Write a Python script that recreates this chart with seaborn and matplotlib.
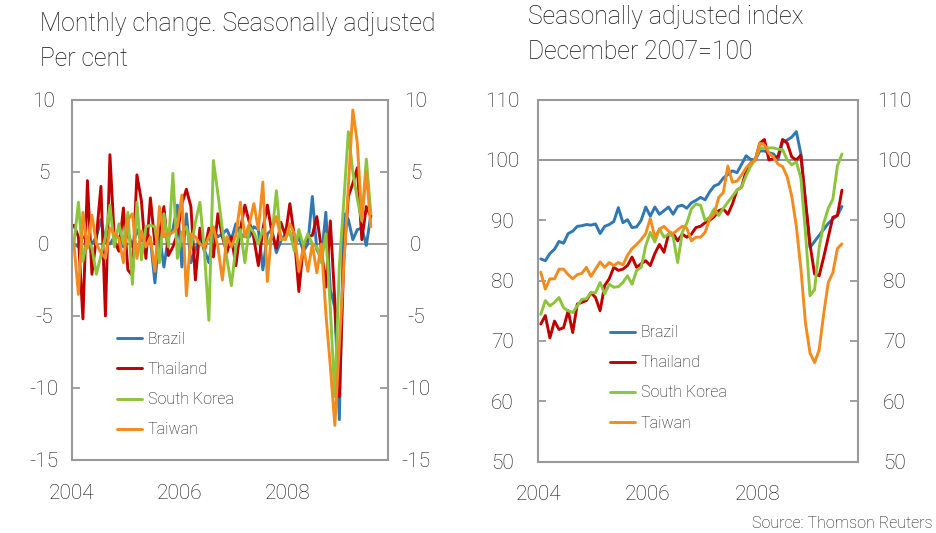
import numpy as np
import pandas as pd
import matplotlib
matplotlib.use("Agg")
import matplotlib.pyplot as plt
import seaborn as sns

countries = ["Brazil", "Thailand", "South Korea", "Taiwan"]
colors = ["#2f78b4", "#c00000", "#8cc43c", "#f28c1e"]
start_year = 2004  # monthly data Jan 2004 - Jul 2009

# monthly change, per cent (left panel)
brazil_chg = [0.0, -0.2, 0.5, 0.3, 0.0, 0.5, 1.7, 0.1, 0.0, 0.5, 0.5, -0.2,
              0.8, -0.2, 1.0, 0.2, 1.0, 0.3, -2.7, 0.7, -1.6, 0.5, 1.0, 2.7,
              -1.6, 2.1, -1.3, -0.4, 0.5, -0.4, -1.3, 0.9, 0.5, 0.7, 1.0, 0.3,
              1.4, 0.7, 0.5, 0.5, 1.2, 1.0, -1.8, 0.7, 1.0, -0.6, 0.2, 0.7,
              0.8, -0.2, 0.5, -0.5, 0.0, 3.3, -0.4, -1.0, 2.2, -3.2, -4.4, -12.2,
              2.1, 1.7, 0.3, 1.0, 1.1, -0.1, 2.0]
thailand_chg = [1.3, 0.5, -5.2, 4.4, -2.1, 0.5, 4.0, -5.0, 6.2, 0.2, -0.5, 2.5,
                -1.8, -2.2, 4.8, 3.0, -1.0, 3.2, 0.0, 0.7, 2.6, -0.8, -0.2, 0.7,
                2.8, 3.8, 2.6, -2.5, 1.1, -0.5, 1.1, -0.9, 2.1, 0.5, -0.6, 0.5,
                -1.5, 1.0, 2.7, 1.5, 0.4, -1.5, 1.0, 2.7, 0.8, -0.3, 1.5, 0.6,
                2.8, 0.5, -3.3, -0.1, 0.5, 0.6, 1.9, -0.3, -3.0, 1.6, -4.0, -10.6,
                -1.0, 3.3, 4.2, 5.3, 0.3, 2.6, 1.9]
korea_chg = [0.0, 2.9, -1.2, 0.5, -0.3, -2.1, -0.8, 0.5, 2.7, -0.2, 1.4, 0.0,
             2.2, -2.8, 2.9, -1.1, 1.2, 1.3, 1.2, -1.3, 2.1, -0.2, 4.9, -1.0,
             0.8, 1.2, -0.3, 1.5, 2.9, -0.5, -5.3, 5.8, 3.5, 1.0, -1.0, -2.9,
             -0.2, 1.0, -1.3, 1.2, 0.8, 0.0, 1.0, 0.0, 0.5, 3.7, 0.3, 0.4,
             0.9, -0.5, 1.0, -0.1, 0.7, 0.0, -0.2, -1.3, 0.7, -4.5, -10.6, -1.5,
             3.0, 7.8, 5.0, 3.1, 1.6, 5.9, 2.1]
taiwan_chg = [0.0, -3.5, 2.2, -0.3, 2.0, 0.0, -0.6, -1.0, 1.1, 0.7, 0.4, -1.3,
              1.7, 2.1, -1.0, 0.9, -0.2, 0.5, -1.9, 2.6, 0.5, 0.7, 0.8, 1.2,
              3.4, -3.6, 0.7, 0.5, 0.0, -0.2, 0.5, 1.2, -0.2, -2.5, 0.5, -0.2,
              0.6, 2.9, 0.5, 1.4, 2.8, 1.0, 4.3, -2.6, 1.0, 1.9, 0.4, 0.3,
              1.4, 0.7, -1.9, -0.2, -1.9, 0.0, -2.0, 0.0, -4.8, -8.5, -12.6, -7.0,
              -1.5, 4.0, 9.3, 7.0, 1.7, 5.0, 1.2]

# seasonally adjusted index, Dec 2007 = 100 (right panel)
brazil_idx = [83.6, 83.3, 84.5, 85.2, 86.5, 86.2, 87.8, 88.2, 89.0, 89.1, 89.3, 89.2,
              89.4, 87.8, 89.0, 89.3, 89.8, 92.1, 89.6, 90.1, 88.8, 88.9, 90.0, 92.2,
              90.7, 92.2, 91.0, 91.6, 92.2, 91.0, 92.3, 92.5, 92.0, 92.9, 93.3, 93.8,
              93.4, 94.7, 95.7, 96.0, 97.0, 97.6, 98.2, 97.9, 99.3, 100.7, 100.1, 100.0,
              101.5, 101.5, 101.2, 101.0, 100.1, 103.0, 103.3, 103.8, 104.7, 101.0, 93.0, 85.5,
              86.5, 87.5, 88.5, 89.5, 90.2, 90.8, 92.3]
thailand_idx = [72.8, 74.2, 70.5, 73.3, 71.9, 72.2, 75.0, 71.4, 76.1, 76.4, 76.7, 78.0,
                77.2, 75.0, 79.2, 80.3, 82.2, 81.7, 81.9, 82.5, 83.9, 82.2, 82.8, 83.3,
                82.5, 84.5, 86.0, 84.7, 87.7, 87.8, 86.6, 87.7, 87.2, 87.7, 88.8, 89.0,
                89.6, 90.0, 90.6, 91.6, 91.9, 91.0, 92.7, 95.0, 95.5, 98.2, 99.5, 100.0,
                102.8, 103.4, 100.0, 100.2, 100.6, 103.4, 102.8, 100.5, 100.0, 100.8, 93.3, 86.0,
                81.1, 80.8, 83.9, 87.2, 90.5, 90.8, 95.0]
korea_idx = [74.4, 76.7, 75.8, 76.4, 77.2, 75.5, 75.0, 74.7, 75.8, 76.9, 77.0, 78.0,
             78.0, 79.7, 77.8, 79.4, 78.9, 79.0, 79.7, 80.8, 79.4, 81.7, 82.2, 85.8,
             88.0, 86.4, 88.6, 87.2, 87.7, 87.3, 83.0, 88.0, 89.5, 91.9, 92.7, 92.5,
             90.0, 90.5, 91.9, 90.8, 92.0, 93.0, 94.0, 95.0, 95.5, 97.4, 99.0, 100.0,
             102.0, 102.0, 102.0, 102.0, 101.8, 101.7, 100.0, 99.2, 99.7, 97.0, 88.0, 77.5,
             78.5, 85.5, 89.5, 92.0, 93.5, 99.0, 101.0]
taiwan_idx = [81.4, 78.6, 80.3, 80.3, 81.9, 81.9, 81.0, 80.3, 81.0, 81.2, 82.2, 80.7,
              81.9, 83.1, 82.2, 83.0, 82.5, 83.0, 82.6, 84.2, 85.3, 86.0, 86.8, 87.8,
              90.3, 87.2, 88.5, 89.0, 88.2, 87.8, 88.4, 89.0, 88.7, 86.6, 87.2, 87.2,
              88.0, 90.2, 91.0, 93.8, 94.6, 99.0, 96.3, 96.5, 97.5, 98.7, 99.5, 100.0,
              102.8, 102.5, 101.1, 100.5, 99.3, 98.9, 97.2, 94.0, 89.0, 82.0, 73.0, 68.0,
              66.4, 68.5, 74.5, 79.7, 81.3, 85.3, 86.1]


def to_long(series):
    frames = []
    for name, vals in zip(countries, series):
        # plot each month at its mid point, in decimal years
        x = start_year + (np.arange(len(vals)) + 0.5) / 12
        frames.append(pd.DataFrame({"year": x, "value": vals, "country": name}))
    return pd.concat(frames, ignore_index=True)


df_chg = to_long([brazil_chg, thailand_chg, korea_chg, taiwan_chg])
df_idx = to_long([brazil_idx, thailand_idx, korea_idx, taiwan_idx])

sns.set_style("white")
plt.rcParams["font.family"] = ["Roboto", "DejaVu Sans"]
plt.rcParams["font.weight"] = "light"
plt.rcParams["axes.unicode_minus"] = False
grey = "#999999"
ink = "#111111"

fig = plt.figure(figsize=(9.37, 5.33), dpi=100)
ax1 = fig.add_axes([0.0765, 0.137, 0.3376, 0.6754])
ax2 = fig.add_axes([0.5747, 0.134, 0.3413, 0.679])


def style(ax, ylim, yticks, ref, pad_y, xmax):
    ax.axhline(ref, color="#8c8c8c", lw=1.3, zorder=0)
    ax.set_xlim(2004, xmax)
    ax.set_ylim(*ylim)
    ax.set_xticks([2004, 2006, 2008])
    ax.set_yticks(yticks)
    ax.set_xlabel("")
    ax.set_ylabel("")
    for s in ax.spines.values():
        s.set_color(grey)
        s.set_linewidth(1.5)
    ax.tick_params(direction="in", length=6, width=1.3, color=grey,
                   labelsize=15, labelcolor=ink)
    ax.tick_params(axis="x", pad=17)
    ax.tick_params(axis="y", left=True, right=True, labelleft=True,
                   labelright=True, pad=pad_y)
    for t in ax.yaxis.get_major_ticks():
        t.label1.set_horizontalalignment("center")
        t.label2.set_horizontalalignment("center")


sns.lineplot(data=df_chg, x="year", y="value", hue="country", palette=colors,
             linewidth=2.1, ax=ax1)
sns.lineplot(data=df_idx, x="year", y="value", hue="country", palette=colors,
             linewidth=2.1, ax=ax2)

style(ax1, (-15, 10), [-15, -10, -5, 0, 5, 10], 0, 20, 2009.86)
style(ax2, (50, 110), [50, 60, 70, 80, 90, 100, 110], 100, 26, 2009.84)

for ax, anchor in [(ax1, (0.143, 0.356)), (ax2, (0.2236, 0.377))]:
    h, l = ax.get_legend_handles_labels()
    leg = ax.legend(h, l, loc="upper left", bbox_to_anchor=anchor, frameon=False,
                    fontsize=11.5, handlelength=1.56, handletextpad=0.37,
                    labelspacing=0.95, borderpad=0, borderaxespad=0)
    for txt in leg.get_texts():
        txt.set_color(ink)

title_kw = dict(fontsize=17.8, va="baseline", ha="left", color=ink)
fig.text(40 / 937, 1 - 31 / 533, "Monthly change. Seasonally adjusted", **title_kw)
fig.text(40 / 937, 1 - 66 / 533, "Per cent", **title_kw)
fig.text(528 / 937, 1 - 24 / 533, "Seasonally adjusted index", **title_kw)
fig.text(528 / 937, 1 - 59 / 533, "December 2007=100", **title_kw)
fig.text(933 / 937, 1 - 528 / 533, "Source: Thomson Reuters",
         fontsize=11.5, va="baseline", ha="right", color=ink)

fig.savefig("out.png", dpi=100)
